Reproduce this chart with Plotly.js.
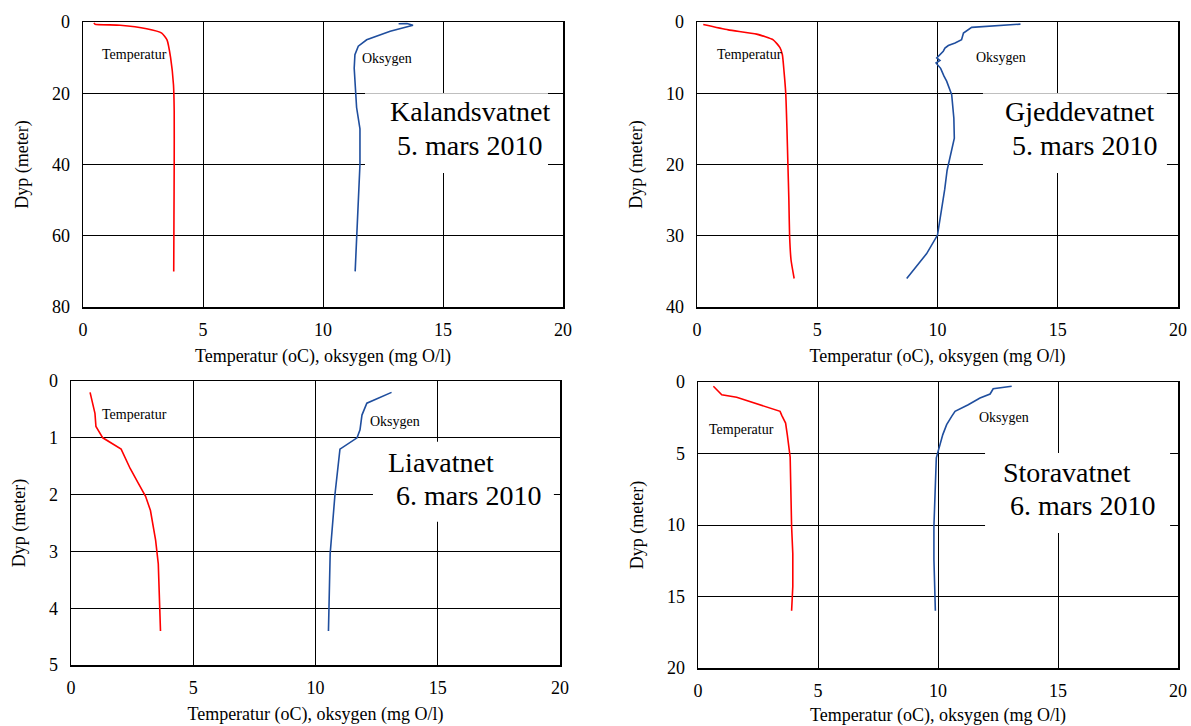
<!DOCTYPE html>
<html>
<head>
<meta charset="utf-8">
<script src="https://cdn.plot.ly/plotly-3.0.1.min.js"></script>
<style>html,body{margin:0;padding:0;background:#fff;}#chart{width:1191px;height:726px;}</style>
</head>
<body>
<div id="chart"></div>
<script>
// ---- Data ----
const lakeNames = ["Kalandsvatnet", "Gjeddevatnet", "Liavatnet", "Storavatnet"];
const lakeDates = ["5. mars 2010", "5. mars 2010", "6. mars 2010", "6. mars 2010"];
const xTitle = "Temperatur (oC), oksygen (mg O/l)";
const yTitle = "Dyp (meter)";
const tempLabel = "Temperatur";
const oxyLabel = "Oksygen";
const xTickVals = [0, 5, 10, 15, 20];

// Kalandsvatnet
const kalTempDepth = [0.3, 0.6, 0.9, 1.9, 3.1, 5, 10, 17.6, 25, 40, 55, 70];
const kalTemp      = [0.45, 0.5, 1.55, 2.65, 3.28, 3.5, 3.65, 3.77, 3.8, 3.8, 3.79, 3.78];
const kalOxyDepth  = [0.5, 0.45, 0.9, 1.6, 2.6, 5, 6.8, 9.2, 13, 24, 30, 40, 50, 60, 70];
const kalOxy       = [13.15, 13.5, 13.75, 13.4, 12.8, 11.82, 11.47, 11.33, 11.3, 11.4, 11.54, 11.54, 11.48, 11.42, 11.34];

// Gjeddevatnet
const gjeTempDepth = [0.35, 1.1, 1.7, 2.5, 3.6, 4.6, 7, 10, 15, 20, 25, 30, 33.4, 36];
const gjeTemp      = [0.26, 1.3, 2.48, 3.17, 3.45, 3.55, 3.62, 3.69, 3.74, 3.78, 3.82, 3.85, 3.91, 4.04];
const gjeOxyDepth  = [0.3, 0.75, 1.55, 2.5, 2.95, 3.3, 3.65, 4.1, 5.05, 5.4, 5.75, 6.5, 7.6, 8.3, 10.2, 13.5, 16.3, 18.4, 20.8, 23.5, 26.4, 29.9, 32.5, 36];
const gjeOxy       = [13.45, 11.42, 11.08, 11.0, 10.73, 10.45, 10.31, 10.24, 9.97, 10.1, 9.94, 10.13, 10.27, 10.38, 10.59, 10.68, 10.7, 10.55, 10.4, 10.3, 10.17, 10.0, 9.55, 8.72];

// Liavatnet
const liaTempDepth = [0.2, 0.57, 0.8, 1.0, 1.2, 1.54, 1.8, 2.03, 2.28, 2.8, 3.22, 4.0, 4.4];
const liaTemp      = [0.78, 0.98, 1.02, 1.3, 2.05, 2.42, 2.75, 3.05, 3.25, 3.46, 3.57, 3.65, 3.66];
const liaOxyDepth  = [0.2, 0.39, 0.6, 0.86, 1.0, 1.2, 1.98, 2.57, 3.04, 4.4];
const liaOxy       = [13.11, 12.1, 11.9, 11.82, 11.7, 11.0, 10.8, 10.69, 10.6, 10.53];

// Storavatnet
const stoTempDepth = [0.3, 0.89, 1.07, 2.05, 2.33, 2.87, 3.68, 5.25, 10.1, 12, 14.3, 16];
const stoTemp      = [0.64, 0.99, 1.61, 3.42, 3.49, 3.65, 3.72, 3.84, 3.9, 3.95, 3.95, 3.9];
const stoOxyDepth  = [0.3, 0.47, 0.84, 1.12, 1.59, 2.05, 2.4, 2.98, 3.68, 4.6, 5.3, 10.1, 12.4, 16];
const stoOxy       = [13.07, 12.3, 12.17, 11.75, 11.26, 10.71, 10.57, 10.36, 10.2, 10.05, 9.93, 9.83, 9.83, 9.89];

const panels = [
  {t: [kalTemp, kalTempDepth], o: [kalOxy, kalOxyDepth], yMax: 80, dtick: 20, smooth: true,
   tl: [2.15, 9.2], ol: [12.65, 10.25], box: [11.75, 19.375, 20, 42.4], n: [12.71, 25.1], d: [13.0, 34.7]},
  {t: [gjeTemp, gjeTempDepth], o: [gjeOxy, gjeOxyDepth], yMax: 40, dtick: 10, smooth: true,
   tl: [2.18, 4.6], ol: [12.65, 5.05], box: [11.89, 19.54, 10, 21.2], n: [12.72, 12.6], d: [13.02, 17.3]},
  {t: [liaTemp, liaTempDepth], o: [liaOxy, liaOxyDepth], yMax: 5, dtick: 1, smooth: false,
   tl: [2.58, 0.59], ol: [13.25, 0.72], box: [12.35, 19.75, 1.07, 2.48], n: [12.88, 1.43], d: [13.21, 2.02]},
  {t: [stoTemp, stoTempDepth], o: [stoOxy, stoOxyDepth], yMax: 20, dtick: 5, smooth: false,
   tl: [1.83, 3.33], ol: [12.76, 2.45], box: [11.96, 19.67, 4.97, 10.56], n: [12.62, 6.3], d: [12.9, 8.62]}
];

// ---- Layout geometry (pixels in a 1191x726 page) ----
const W = 1191, H = 726;
const geom = [
  {x0: 83, x1: 563, y0: 22, y1: 307},
  {x0: 697, x1: 1178, y0: 22, y1: 307},
  {x0: 71, x1: 560, y0: 381, y1: 665},
  {x0: 698, x1: 1178, y0: 382, y1: 668}
];

const FONT = "Liberation Serif";
const RED = "#ff0000";
const BLUE = "#1f4e9e";

const traces = [];
const layout = {
  width: W, height: H,
  margin: {l: 0, r: 0, t: 0, b: 0},
  paper_bgcolor: "#fff", plot_bgcolor: "#fff",
  showlegend: false,
  font: {family: FONT, color: "#000", size: 18},
  annotations: [], shapes: []
};

panels.forEach((p, i) => {
  const g = geom[i];
  const k = i === 0 ? "" : String(i + 1);
  const xa = "x" + k, ya = "y" + k;
  const tLine = p.smooth ? {color: RED, width: 1.6, shape: "spline", smoothing: 0.5}
                         : {color: RED, width: 1.6};
  traces.push({x: p.t[0], y: p.t[1], xaxis: xa, yaxis: ya, mode: "lines",
               line: tLine, hoverinfo: "skip"});
  traces.push({x: p.o[0], y: p.o[1], xaxis: xa, yaxis: ya, mode: "lines",
               line: {color: BLUE, width: 1.6}, hoverinfo: "skip"});
  layout["xaxis" + k] = {
    domain: [g.x0 / W, g.x1 / W], anchor: ya,
    range: [0, 20], tickvals: xTickVals, ticktext: xTickVals.map(String),
    showline: true, mirror: true, linecolor: "#000", linewidth: 1.5,
    showgrid: true, gridcolor: "#000", gridwidth: 1, zeroline: false,
    ticks: "outside", ticklen: 6, tickcolor: "rgba(0,0,0,0)",
    tickfont: {family: FONT, size: 18, color: "#000"},
    title: {text: xTitle, font: {family: FONT, size: 18, color: "#000"}, standoff: 10}
  };
  const yt = [];
  for (let v = 0; v <= p.yMax; v += p.dtick) yt.push(v);
  layout["yaxis" + k] = {
    domain: [1 - g.y1 / H, 1 - g.y0 / H], anchor: xa,
    range: [p.yMax, 0], tickvals: yt, ticktext: yt.map(String),
    showline: true, mirror: true, linecolor: "#000", linewidth: 1.5,
    showgrid: true, gridcolor: "#000", gridwidth: 1, zeroline: false,
    ticks: "outside", ticklen: 8, tickcolor: "rgba(0,0,0,0)",
    tickfont: {family: FONT, size: 18, color: "#000"},
    title: {text: yTitle, font: {family: FONT, size: 18, color: "#000"}, standoff: 18}
  };
  layout.shapes.push({type: "rect", xref: xa, yref: ya,
    x0: p.box[0], x1: p.box[1], y0: p.box[2], y1: p.box[3],
    fillcolor: "#fff", line: {width: 0}, layer: "above"});
  const lab = (x, y, text, size, anchor) => layout.annotations.push({
    xref: xa, yref: ya, x: x, y: y, text: text, showarrow: false,
    xanchor: anchor, yanchor: "middle",
    font: {family: FONT, size: size, color: "#000"}
  });
  lab(p.tl[0], p.tl[1], tempLabel, 14, "center");
  lab(p.ol[0], p.ol[1], oxyLabel, 14, "center");
  lab(p.n[0], p.n[1], lakeNames[i], 28, "left");
  lab(p.d[0], p.d[1], lakeDates[i], 28, "left");
});

Plotly.newPlot("chart", traces, layout, {displayModeBar: false, staticPlot: true});
</script>
</body>
</html>
